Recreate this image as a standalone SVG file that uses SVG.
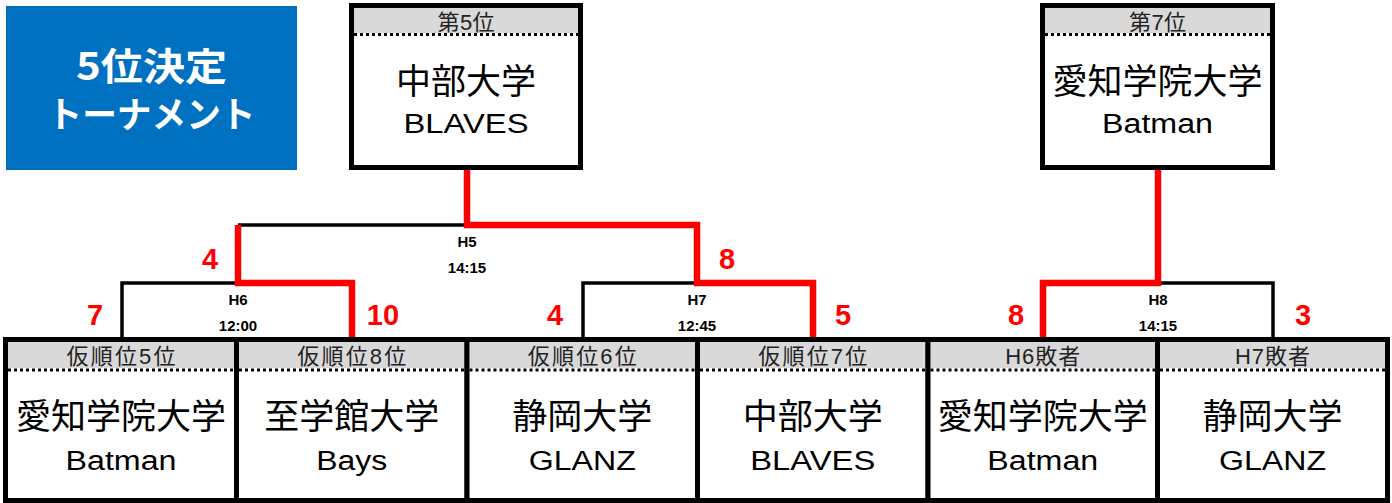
<svg xmlns="http://www.w3.org/2000/svg" width="1392" height="503" viewBox="0 0 1392 503">
<style>
.bg{fill:#fff;stroke:none}
.hd{fill:#D9D9D9;stroke:none}
.bd{fill:none;stroke:#000;stroke-width:5}
.dot{stroke:#000;stroke-width:3;stroke-dasharray:3 3;fill:none}
.ht{font-family:"Liberation Sans","Noto Sans CJK JP",sans-serif;font-size:22px;fill:#222;text-anchor:middle}
.jp{font-family:"Noto Sans CJK JP",sans-serif;font-size:35px;fill:#000;text-anchor:middle}
.en{font-family:"Liberation Sans","Noto Sans CJK JP",sans-serif;font-size:27px;fill:#000;text-anchor:middle}
.blk{fill:none;stroke:#000;stroke-width:3.5}
.red{fill:none;stroke:#FF0000;stroke-width:6.5}
.mt{font-family:"Liberation Sans",Arial,sans-serif;font-size:15px;font-weight:bold;fill:#000;text-anchor:middle}
.sc{font-family:"Liberation Sans",Arial,sans-serif;font-size:29px;font-weight:bold;fill:#FF0000;text-anchor:middle}
.tt{font-family:"Noto Sans CJK JP",sans-serif;font-weight:bold;fill:#fff;text-anchor:middle}
</style>

<g id="title">
<rect x="6" y="6" width="291" height="164" fill="#0070C0"/>
<text class="tt" x="151.5" y="80" font-size="38" textLength="151" lengthAdjust="spacingAndGlyphs">5位決定</text>
<text class="tt" x="151.5" y="128" font-size="36" textLength="208" lengthAdjust="spacingAndGlyphs">トーナメント</text>
</g>

<g id="connectors">
<path class="blk" d="M122,340 V283 H238"/>
<path class="blk" d="M238,225 H467"/>
<path class="blk" d="M583,340 V283 H697"/>
<path class="blk" d="M1157,283 H1273 V340"/>
<path class="red" d="M238,225 V283 H352 V340"/>
<path class="red" d="M467,168 V225 H697 V283 H813 V340"/>
<path class="red" d="M1158,168 V283 H1043 V340"/>
<text class="mt" x="467" y="247">H5</text>
<text class="mt" x="467" y="273">14:15</text>
<text class="mt" x="238" y="305">H6</text>
<text class="mt" x="238" y="331">12:00</text>
<text class="mt" x="697" y="305">H7</text>
<text class="mt" x="697" y="331">12:45</text>
<text class="mt" x="1158" y="305">H8</text>
<text class="mt" x="1158" y="331">14:15</text>
<text class="sc" x="210" y="269">4</text>
<text class="sc" x="727" y="269">8</text>
<text class="sc" x="95" y="325">7</text>
<text class="sc" x="383" y="325">10</text>
<text class="sc" x="555" y="325">4</text>
<text class="sc" x="843" y="325">5</text>
<text class="sc" x="1016" y="325">8</text>
<text class="sc" x="1303" y="325">3</text>
</g>

<g id="place5">
<rect class="bg" x="351.5" y="5.5" width="229" height="162"/>
<rect class="hd" x="354" y="8" width="224" height="25"/>
<line class="dot" x1="354" y1="34.5" x2="578" y2="34.5"/>
<rect class="bd" x="351.5" y="5.5" width="229" height="162"/>
<text class="ht" x="466" y="30" textLength="57" lengthAdjust="spacing">第5位</text>
<text class="jp" x="466" y="94">中部大学</text>
<text class="en" x="466" y="133" textLength="125" lengthAdjust="spacingAndGlyphs">BLAVES</text>
</g>

<g id="place7">
<rect class="bg" x="1042.5" y="5.5" width="230" height="162"/>
<rect class="hd" x="1045" y="8" width="225" height="25"/>
<line class="dot" x1="1045" y1="34.5" x2="1270" y2="34.5"/>
<rect class="bd" x="1042.5" y="5.5" width="230" height="162"/>
<text class="ht" x="1157.5" y="30" textLength="57" lengthAdjust="spacing">第7位</text>
<text class="jp" x="1157.5" y="94">愛知学院大学</text>
<text class="en" x="1157.5" y="133" textLength="111" lengthAdjust="spacingAndGlyphs">Batman</text>
</g>

<g id="seed5">
<rect class="bg" x="5.5" y="339.5" width="231" height="161"/>
<rect class="hd" x="8" y="342" width="226" height="26"/>
<line class="dot" x1="8" y1="370" x2="234" y2="370"/>
<rect class="bd" x="5.5" y="339.5" width="231" height="161"/>
<text class="ht" x="121" y="364" textLength="109" lengthAdjust="spacing">仮順位5位</text>
<text class="jp" x="121" y="429">愛知学院大学</text>
<text class="en" x="121" y="470" textLength="111" lengthAdjust="spacingAndGlyphs">Batman</text>
</g>

<g id="seed8">
<rect class="bg" x="236.5" y="339.5" width="230.5" height="161"/>
<rect class="hd" x="239" y="342" width="225.5" height="26"/>
<line class="dot" x1="239" y1="370" x2="464.5" y2="370"/>
<rect class="bd" x="236.5" y="339.5" width="230.5" height="161"/>
<text class="ht" x="351.75" y="364" textLength="109" lengthAdjust="spacing">仮順位8位</text>
<text class="jp" x="351.75" y="429">至学館大学</text>
<text class="en" x="351.75" y="470" textLength="71" lengthAdjust="spacingAndGlyphs">Bays</text>
</g>

<g id="seed6">
<rect class="bg" x="467" y="339.5" width="230.5" height="161"/>
<rect class="hd" x="469.5" y="342" width="225.5" height="26"/>
<line class="dot" x1="469.5" y1="370" x2="695" y2="370"/>
<rect class="bd" x="467" y="339.5" width="230.5" height="161"/>
<text class="ht" x="582.25" y="364" textLength="109" lengthAdjust="spacing">仮順位6位</text>
<text class="jp" x="582.25" y="429">静岡大学</text>
<text class="en" x="582.25" y="470" textLength="107" lengthAdjust="spacingAndGlyphs">GLANZ</text>
</g>

<g id="seed7">
<rect class="bg" x="697.5" y="339.5" width="230.5" height="161"/>
<rect class="hd" x="700" y="342" width="225.5" height="26"/>
<line class="dot" x1="700" y1="370" x2="925.5" y2="370"/>
<rect class="bd" x="697.5" y="339.5" width="230.5" height="161"/>
<text class="ht" x="812.75" y="364" textLength="109" lengthAdjust="spacing">仮順位7位</text>
<text class="jp" x="812.75" y="429">中部大学</text>
<text class="en" x="812.75" y="470" textLength="125" lengthAdjust="spacingAndGlyphs">BLAVES</text>
</g>

<g id="loserH6">
<rect class="bg" x="928" y="339.5" width="229.5" height="161"/>
<rect class="hd" x="930.5" y="342" width="224.5" height="26"/>
<line class="dot" x1="930.5" y1="370" x2="1155" y2="370"/>
<rect class="bd" x="928" y="339.5" width="229.5" height="161"/>
<text class="ht" x="1042.75" y="364" textLength="75" lengthAdjust="spacing">H6敗者</text>
<text class="jp" x="1042.75" y="429">愛知学院大学</text>
<text class="en" x="1042.75" y="470" textLength="111" lengthAdjust="spacingAndGlyphs">Batman</text>
</g>

<g id="loserH7">
<rect class="bg" x="1157.5" y="339.5" width="230" height="161"/>
<rect class="hd" x="1160" y="342" width="225" height="26"/>
<line class="dot" x1="1160" y1="370" x2="1385" y2="370"/>
<rect class="bd" x="1157.5" y="339.5" width="230" height="161"/>
<text class="ht" x="1272.5" y="364" textLength="75" lengthAdjust="spacing">H7敗者</text>
<text class="jp" x="1272.5" y="429">静岡大学</text>
<text class="en" x="1272.5" y="470" textLength="107" lengthAdjust="spacingAndGlyphs">GLANZ</text>
</g>
</svg>
